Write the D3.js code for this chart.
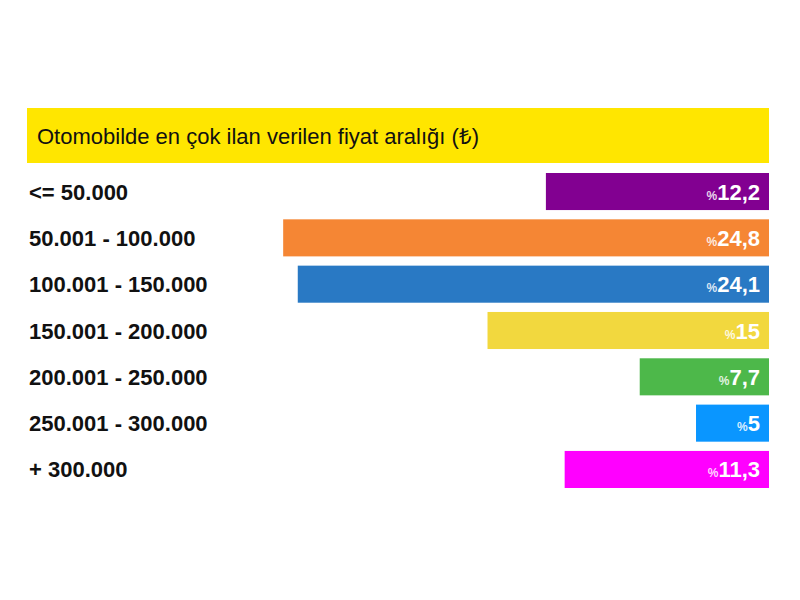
<!DOCTYPE html>
<html>
<head>
<meta charset="utf-8">
<script src="https://cdn.jsdelivr.net/npm/d3@7"></script>
<style>
  body { margin: 0; background: #fff; }
  svg { display: block; font-family: "Liberation Sans", Arial, Helvetica, sans-serif; }
</style>
</head>
<body>
<div id="chart"></div>
<script>
// data
var title = "Otomobilde en çok ilan verilen fiyat aralığı (₺)";
var ranges = ["<= 50.000", "50.001 - 100.000", "100.001 - 150.000", "150.001 - 200.000",
              "200.001 - 250.000", "250.001 - 300.000", "+ 300.000"];
var shares = [12.2, 24.8, 24.1, 15, 7.7, 5, 11.3];
var colors = ["#820091", "#f58634", "#2979c4", "#f2d83e", "#4db84a", "#0a96ff", "#ff00ff"];

var svgWidth = 800;
var svgHeight = 600;
var right = 769;

var svg = d3.select("#chart")
    .append("svg")
    .attr("width", svgWidth)
    .attr("height", svgHeight);

// title band
svg.append("rect")
    .attr("x", 27)
    .attr("y", 108)
    .attr("width", right - 27)
    .attr("height", 55)
    .attr("fill", "#ffe600");

svg.append("text")
    .attr("x", 37)
    .attr("y", 144)
    .attr("font-size", 22)
    .attr("fill", "#111")
    .text(title);

var y = d3.scaleBand()
    .domain(ranges)
    .range([173, 488])
    .paddingInner(0.2)
    .paddingOuter(0);

var w = d3.scaleLinear()
    .domain([1.5, 25])
    .range([0, 490]);

var data = ranges.map(function(r, i) {
    return { range: r, share: shares[i], color: colors[i] };
});

var rows = svg.selectAll("g.row")
    .data(data)
    .enter()
    .append("g")
    .attr("class", "row");

rows.append("rect")
    .attr("x", function(d) { return right - w(d.share); })
    .attr("y", function(d) { return y(d.range); })
    .attr("width", function(d) { return w(d.share); })
    .attr("height", y.bandwidth())
    .attr("fill", function(d) { return d.color; });

rows.append("text")
    .attr("x", 29)
    .attr("y", function(d) { return y(d.range) + y.bandwidth() / 2 + 8; })
    .attr("font-size", 22)
    .attr("font-weight", "bold")
    .attr("fill", "#111")
    .text(function(d) { return d.range; });

var val = rows.append("text")
    .attr("x", right - 9)
    .attr("y", function(d) { return y(d.range) + y.bandwidth() / 2 + 8; })
    .attr("text-anchor", "end")
    .attr("fill", "#fff")
    .attr("font-weight", "bold");

val.append("tspan")
    .attr("font-size", 12)
    .attr("fill-opacity", 0.85)
    .text("%");

val.append("tspan")
    .attr("font-size", 22)
    .text(function(d) { return String(d.share).replace(".", ","); });
</script>
</body>
</html>
